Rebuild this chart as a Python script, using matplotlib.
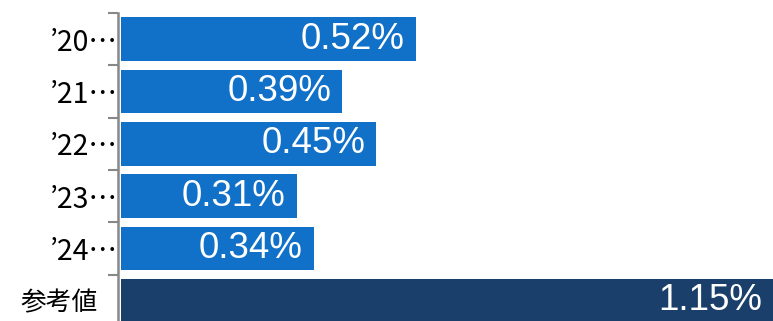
import matplotlib.pyplot as plt
import numpy as np
from matplotlib.transforms import ScaledTranslation

plt.rcParams['font.family'] = ['Noto Sans CJK JP', 'DejaVu Sans']

# 年度ごとの数値と参考値
labels = ["’20…", "’21…", "’22…", "’23…", "’24…", "参考値"]
values = [0.52, 0.39, 0.45, 0.31, 0.34, 1.15]
colors = ["#1170c8"] * 5 + ["#1a3f6b"]

fig = plt.figure(figsize=(7.73, 3.21), dpi=100)
ax = fig.add_axes([118 / 773, -6 / 321, 655 / 773, 314 / 321])

y = np.arange(len(labels))
ax.barh(y, values, height=0.84, color=colors, left=0)

ax.set_xlim(-0.006, 1.15)
ax.set_ylim(len(labels) - 0.5, -0.5)

for yi, v in zip(y, values):
    ax.text(v - 0.02, yi, f"{v:.2f}%", color="white", fontsize=26.5,
            family=["Liberation Sans", "DejaVu Sans"],
            ha="right", va="center")

ax.set_yticks(y)
ax.set_yticklabels(labels, fontsize=20.5)
ax.tick_params(axis="y", which="major", length=0, pad=0)
ax.set_yticks(np.arange(-0.5, len(labels)), minor=True)
ax.tick_params(axis="y", which="minor", length=7, width=1.5, color="#888888")
ax.set_xticks([])

# 参考値のラベルは少し左に寄せる
last = ax.get_yticklabels()[-1]
last.set_fontsize(18.5)
last.set_transform(last.get_transform() + ScaledTranslation(-20 / 100, 0, fig.dpi_scale_trans))

for s in ["top", "right", "bottom"]:
    ax.spines[s].set_visible(False)
ax.spines["left"].set_color("#888888")
ax.spines["left"].set_linewidth(1.8)

fig.savefig("out.png", dpi=100)
